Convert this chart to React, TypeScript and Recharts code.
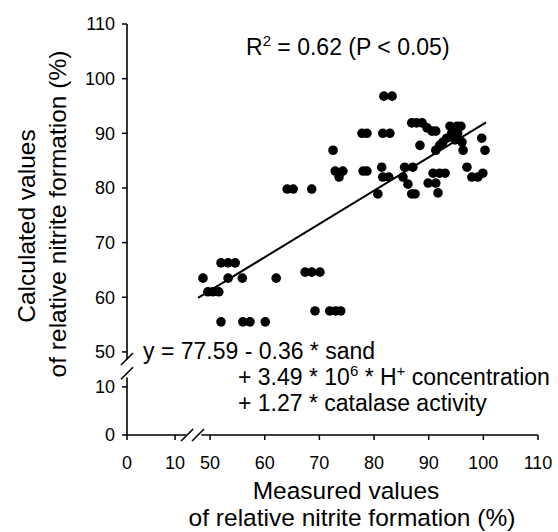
import { ScatterChart, Scatter, XAxis, YAxis, ReferenceLine } from 'recharts';

// measured (x) vs calculated (y) relative nitrite formation, %
const measured = [
  48.7, 52.0, 53.3, 54.6, 53.3, 55.9, 62.1, 49.6, 50.5, 51.6, 52.0, 56.0, 57.3, 60.1,
  64.1, 65.2, 68.6, 67.4, 68.6, 70.1, 69.2, 71.9, 73.0, 73.9, 72.5, 72.9, 74.3, 73.6,
  78.0, 78.7, 77.8, 78.7, 81.6, 82.9, 81.8, 83.3, 81.4, 81.6, 82.7, 80.7, 85.3, 85.6,
  86.2, 86.9, 87.5, 87.1, 88.4, 86.9, 87.8, 88.8, 89.7, 90.6, 91.3, 93.9, 95.2, 95.9,
  94.2, 95.3, 93.3, 94.8, 96.1, 92.6, 92.0, 91.3, 96.3, 99.7, 100.3, 90.8, 92.0, 93.0,
  89.9, 91.3, 91.7, 97.0, 97.9, 99.0, 99.9,
];
const calculated = [
  63.5, 66.3, 66.3, 66.3, 63.5, 63.5, 63.5, 61.0, 61.0, 61.0, 55.5, 55.5, 55.5, 55.5,
  79.8, 79.8, 79.8, 64.6, 64.6, 64.6, 57.5, 57.5, 57.5, 57.5, 86.9, 83.1, 83.1, 82.0,
  83.1, 83.1, 90.0, 90.0, 90.0, 90.0, 96.8, 96.8, 83.8, 82.0, 82.0, 78.9, 82.0, 83.8,
  80.7, 78.9, 78.9, 83.8, 87.8, 91.9, 91.9, 91.9, 91.0, 90.4, 90.4, 91.3, 91.3, 91.3,
  90.0, 90.0, 89.1, 88.8, 88.4, 88.4, 87.8, 86.9, 86.9, 89.1, 86.9, 82.7, 82.7, 82.7,
  80.9, 80.9, 79.1, 83.8, 82.0, 82.0, 82.7,
];

// regression line end points
const fitX = [47.8, 100.5];
const fitY = [59.9, 92.0];

// broken axes: 0 and 10 sit on the squeezed part below 50
const xTicks = [34.8, 43.6, 50, 60, 70, 80, 90, 100, 110];
const xTickLabels = ['0', '10', '50', '60', '70', '80', '90', '100', '110'];
const yTicks = [34.8, 43.6, 50, 60, 70, 80, 90, 100, 110];
const yTickLabels = ['0', '10', '50', '60', '70', '80', '90', '100', '110'];

const points = measured.map((m, i) => ({ x: m, y: calculated[i] }));
const fit = fitX.map((x, i) => ({ x, y: fitY[i] }));

const font = '"Liberation Sans", Arial, sans-serif';
const lo = 34.8;

const Dot = (props: any) => <circle cx={props.cx} cy={props.cy} r={4.8} fill="#000" />;
const NoDot = () => <g />;

const sup = { fontSize: 15, lineHeight: 0, verticalAlign: 'super' as const };

export default function App() {
  const txt = { position: 'absolute' as const, fontFamily: font, color: '#000', whiteSpace: 'nowrap' as const };
  return (
    <div style={{ position: 'absolute', left: 0, top: 0, width: 558, height: 532, background: '#fff' }}>
      <ScatterChart width={558} height={532} margin={{ top: 24, right: 20, bottom: 57, left: 0 }}>
        <XAxis
          type="number"
          dataKey="x"
          domain={[lo, 110]}
          ticks={xTicks}
          interval={0}
          allowDataOverflow
          axisLine={false}
          tickLine={{ stroke: '#000', strokeWidth: 1.5 }}
          tickSize={5}
          tickMargin={16}
          height={40}
          tick={{ fill: '#000', fontSize: 18, fontFamily: font }}
          tickFormatter={(v: number) => xTickLabels[xTicks.indexOf(v)]}
        />
        <YAxis
          type="number"
          dataKey="y"
          domain={[lo, 110]}
          ticks={yTicks}
          interval={0}
          allowDataOverflow
          axisLine={false}
          tickLine={{ stroke: '#000', strokeWidth: 1.5 }}
          tickSize={5}
          tickMargin={7}
          width={127}
          tick={{ fill: '#000', fontSize: 18, fontFamily: font }}
          tickFormatter={(v: number) => yTickLabels[yTicks.indexOf(v)]}
        />
        {/* axis lines with breaks */}
        <ReferenceLine segment={[{ x: lo, y: lo }, { x: 45.6, y: lo }]} stroke="#000" strokeWidth={1.6} ifOverflow="visible" />
        <ReferenceLine segment={[{ x: 48.4, y: lo }, { x: 110, y: lo }]} stroke="#000" strokeWidth={1.6} ifOverflow="visible" />
        <ReferenceLine segment={[{ x: 44.7, y: 33.7 }, { x: 46.9, y: 35.9 }]} stroke="#000" strokeWidth={1.6} ifOverflow="visible" />
        <ReferenceLine segment={[{ x: 46.7, y: 33.7 }, { x: 48.9, y: 35.9 }]} stroke="#000" strokeWidth={1.6} ifOverflow="visible" />
        <ReferenceLine segment={[{ x: lo, y: lo }, { x: lo, y: 45.3 }]} stroke="#000" strokeWidth={1.6} ifOverflow="visible" />
        <ReferenceLine segment={[{ x: lo, y: 48.6 }, { x: lo, y: 110 }]} stroke="#000" strokeWidth={1.6} ifOverflow="visible" />
        <ReferenceLine segment={[{ x: 33.7, y: 47.6 }, { x: 35.9, y: 49.8 }]} stroke="#000" strokeWidth={1.6} ifOverflow="visible" />
        <ReferenceLine segment={[{ x: 33.7, y: 45.0 }, { x: 35.9, y: 47.2 }]} stroke="#000" strokeWidth={1.6} ifOverflow="visible" />
        <Scatter data={points} shape={Dot} isAnimationActive={false} />
        <Scatter data={fit} shape={NoDot} line={{ stroke: '#000', strokeWidth: 2 }} isAnimationActive={false} />
      </ScatterChart>

      <div style={{ ...txt, left: 246, top: 36, fontSize: 23, lineHeight: '23px' }}>
        R<sup style={sup}>2</sup> = 0.62 (P &lt; 0.05)
      </div>
      <div style={{ ...txt, left: 143, top: 341, fontSize: 23, lineHeight: '20px' }}>
        y = 77.59 - 0.36 * sand
      </div>
      <div style={{ ...txt, left: 238, top: 367, fontSize: 23, lineHeight: '20px' }}>
        + 3.49 * 10<sup style={sup}>6</sup> * H<sup style={sup}>+</sup> concentration
      </div>
      <div style={{ ...txt, left: 238, top: 393, fontSize: 23, lineHeight: '20px' }}>
        + 1.27 * catalase activity
      </div>

      <div style={{ ...txt, left: 146, width: 400, textAlign: 'center', top: 479, fontSize: 24.5, lineHeight: '24px' }}>
        Measured values
      </div>
      <div style={{ ...txt, left: 152, width: 400, textAlign: 'center', top: 506, fontSize: 24.5, lineHeight: '24px' }}>
        of relative nitrite formation (%)
      </div>

      <div style={{ ...txt, left: 27 - 200, top: 226 - 12, width: 400, textAlign: 'center', fontSize: 24.5, lineHeight: '24px', transform: 'rotate(-90deg)' }}>
        Calculated values
      </div>
      <div style={{ ...txt, left: 58 - 200, top: 214 - 12, width: 400, textAlign: 'center', fontSize: 24.5, lineHeight: '24px', transform: 'rotate(-90deg)' }}>
        of relative nitrite formation (%)
      </div>
    </div>
  );
}
